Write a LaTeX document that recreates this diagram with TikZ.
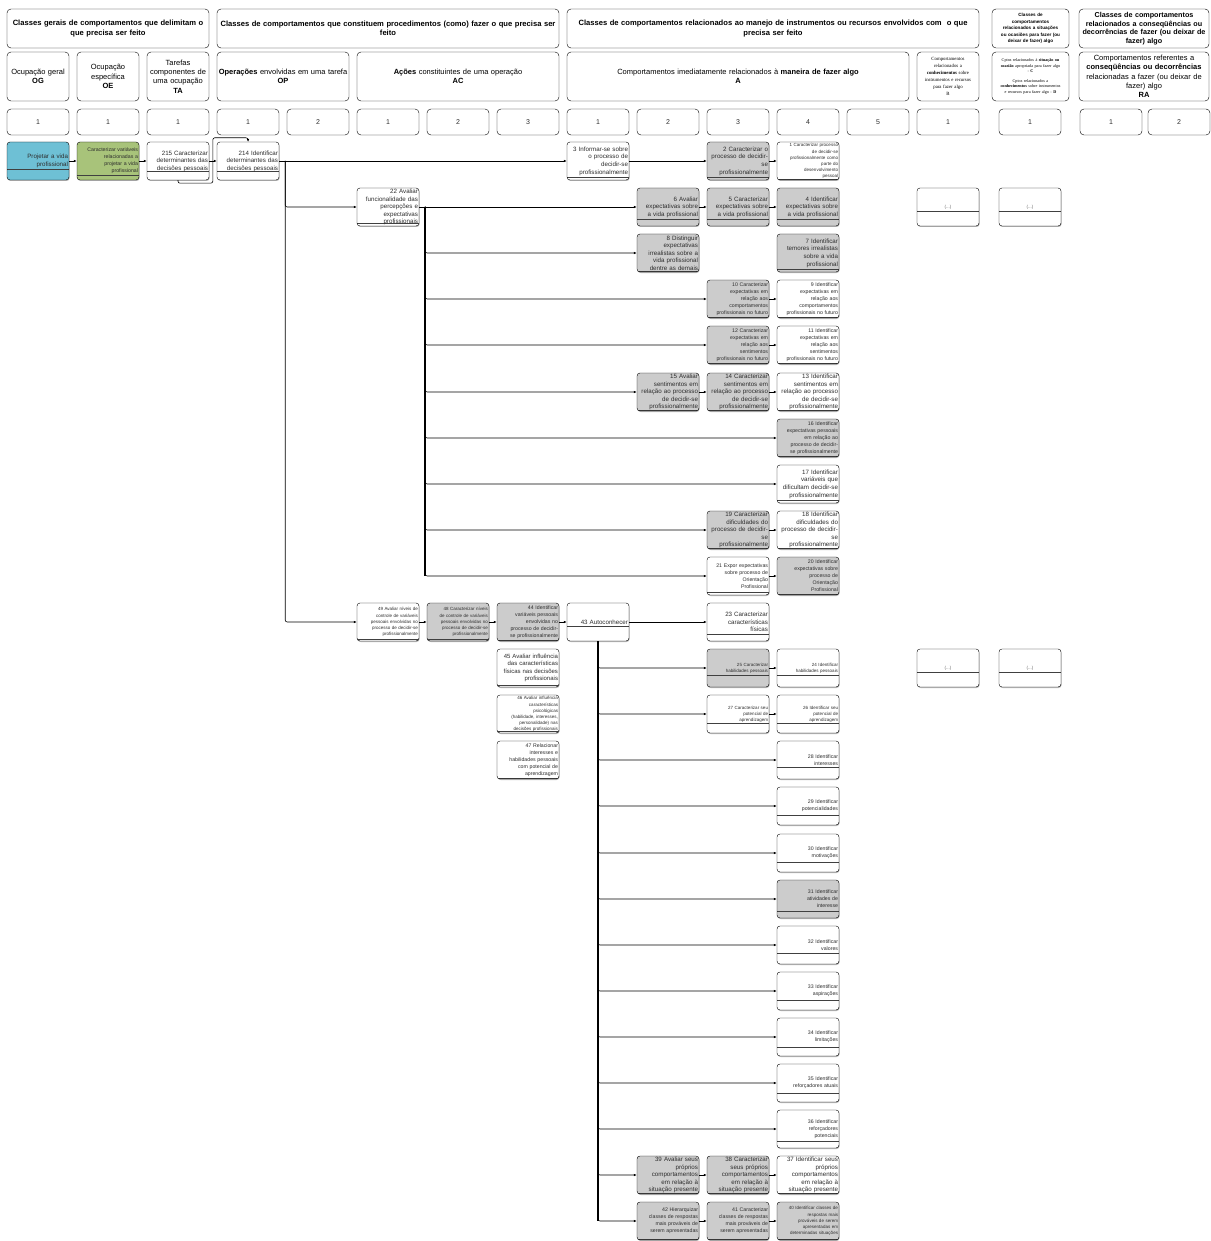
\documentclass[tikz,border=0pt]{standalone}
\usepackage{fontspec}
\setmainfont{Liberation Sans}
\newfontfamily\timesfont{Liberation Serif}
\usetikzlibrary{calc, positioning, arrows.meta, shadows}
\definecolor{boxgray}{RGB}{204,204,204}
\definecolor{boxblue}{RGB}{110,192,213}
\definecolor{boxgreen}{RGB}{168,195,122}
\definecolor{boxtext}{RGB}{45,45,45}
\newcommand{\fsA}{\fontsize{6.2}{7.6}\selectfont}
\newcommand{\fsB}{\fontsize{5.2}{7}\selectfont}
\newcommand{\fsC}{\fontsize{4.5}{6.1}\selectfont}
\tikzset{
	hdr/.style={draw, rounded corners=4pt, align=center, inner sep=1pt, minimum height=39pt, font=\bfseries\fontsize{7.6}{9.3}\selectfont}
}
\tikzset{
	cat/.style={draw, rounded corners=4pt, align=center, inner sep=1pt, minimum height=49pt, font=\fontsize{7.5}{9.3}\selectfont},
	num/.style={draw, rounded corners=4pt, minimum width=62pt, minimum height=26pt, inner sep=0pt, font=\fontsize{7}{8}\selectfont, text=boxtext}
}
\tikzset{
	lane/.style={path picture={\draw[black!75, line width=0.6pt] ([yshift=#1]path picture bounding box.south west) -- ([yshift=#1]path picture bounding box.south east);}},
	lane/.default=9pt,
	cbox/.style={draw, fill=white, rounded corners=3pt, minimum width=62pt, minimum height=38pt, text width=60pt, inner xsep=1pt, inner ysep=0pt, align=right, font=\fsA, text=boxtext, lane, drop shadow={shadow xshift=0.6pt, shadow yshift=-1pt, opacity=0.55}},
	gbox/.style={cbox, fill=boxgray},
	dots/.style={cbox, lane=15pt, align=center, font=\fsC, text=black!60},
	conn/.style={line width=0.6pt, -{Latex[length=3pt,width=2.6pt]}, rounded corners=2pt},
	trunk/.style={line width=1.6pt}
}

\begin{document}
\begin{tikzpicture}[x=1pt, y=-1pt]
      \useasboundingbox (0,0) rectangle (1210,1241);
      % cabecalho
      \node[hdr, text width=200pt] (h1) at (108,28.5) {Classes gerais de comportamentos que delimitam o\\que precisa ser feito};
      \node[hdr, text width=340pt] (h2) at (388,28.5) {Classes de comportamentos que constituem procedimentos (como) fazer o que precisa ser\\feito};
      \node[hdr, text width=410pt] (h3) at (773,28.5) {Classes de comportamentos relacionados ao manejo de instrumentos ou recursos envolvidos com\ \ o que\\precisa ser feito};
      \node[hdr, text width=75pt, font=\bfseries\fontsize{4.6}{6.4}\selectfont] (h4) at (1030.5,28.5) {Classes de\\comportamentos\\relacionados a situações\\ou ocasiões para fazer (ou\\deixar de fazer) algo};
      \node[hdr, text width=128pt, font=\bfseries\fontsize{7.2}{8.6}\selectfont] (h5) at (1144,28.5) {Classes de comportamentos\\relacionados a conseqüências ou\\decorrências de fazer (ou deixar de\\fazer) algo};

      \node[cat, text width=60pt] (og) at (38,76.5) {Ocupação geral\\\textbf{OG}};
      \node[cat, text width=60pt] (oe) at (108,76.5) {Ocupação\\específica\\\textbf{OE}};
      \node[cat, text width=60pt] (ta) at (178,76.5) {Tarefas\\componentes de\\uma ocupação\\\textbf{TA}};
      \node[cat, text width=130pt] (op) at (283,76.5) {\textbf{Operações} envolvidas em uma tarefa\\\textbf{OP}};
      \node[cat, text width=200pt] (ac) at (458,76.5) {\textbf{Ações} constituintes de uma operação\\\textbf{AC}};
      \node[cat, text width=340pt] (ca) at (738,76.5) {Comportamentos imediatamente relacionados à \textbf{maneira de fazer algo}\\\textbf{A}};
      \node[cat, text width=60pt, font=\timesfont\fontsize{4.8}{6.9}\selectfont] (cb) at (948,76.5) {Comportamentos\\relacionados a\\\textbf{conhecimentos} sobre\\instrumentos e recursos\\para fazer algo\\B};
      \node[cat, text width=75pt, font=\timesfont\fontsize{4.2}{5.6}\selectfont] (ccd) at (1030.5,76.5) {Cptos relacionados à \textbf{situação ou}\\\textbf{ocasião} apropriada para fazer algo\\- \textbf{C}\\[4pt]Cptos relacionados a\\\textbf{conhecimentos} sobre instrumentos\\e recursos para fazer algo - \textbf{D}};
      \node[cat, text width=128pt] (cra) at (1144,76.5) {Comportamentos referentes a\\\textbf{conseqüências ou decorrências}\\relacionadas a fazer (ou deixar de\\fazer) algo\\\textbf{RA}};

      \foreach \x/\t [count=\i] in {38/1,108/1,178/1,248/1,318/2,388/1,458/2,528/3,598/1,668/2,738/3,808/4,878/5,948/1,1030/1,1111/1,1179/2}
        \node[num] (k\i) at (\x,122) {\t};

      % cadeia principal
      \node[cbox, fill=boxblue, lane=11pt] (og1) at (38,161) {Projetar a vida\\profissional};
      \node[cbox, fill=boxgreen, lane=5pt, font=\fsB] (oe1) at (108,161) {Caracterizar variáveis\\relacionadas a\\projetar a vida\\profissional};
      \node[cbox] (n215) at (178,161) {215 Caracterizar\\determinantes das\\decisões pessoais};
      \node[cbox] (n214) at (248,161) {214 Identificar\\determinantes das\\decisões pessoais};
      \node[cbox, lane=3pt] (n3) at (598,161) {3 Informar-se sobre\\o processo de\\decidir-se\\profissionalmente};
      \node[gbox, lane=3pt] (n2) at (738,161) {2 Caracterizar o\\processo de decidir-\\se\\profissionalmente};
      \node[cbox, lane=1pt, font=\fsC] (n1) at (808,161) {1 Caracterizar processo\\de decidir-se\\profissionalmente como\\parte do\\desenvolvimento\\pessoal};

      \node[cbox, lane=3pt] (n22) at (388,207) {22 Avaliar\\funcionalidade das\\percepções e\\expectativas\\profissionais};
      \node[gbox, lane=7pt] (n6) at (668,207) {6 Avaliar\\expectativas sobre\\a vida profissional};
      \node[gbox, lane=7pt] (n5) at (738,207) {5 Caracterizar\\expectativas sobre\\a vida profissional};
      \node[gbox, lane=7pt] (n4) at (808,207) {4 Identificar\\expectativas sobre\\a vida profissional};
      \node[dots] (d1) at (948,207) {(...)};
      \node[dots] (d2) at (1030,207) {(...)};

      \node[gbox, lane=1pt] (n8) at (668,253) {8 Distinguir\\expectativas\\irrealistas sobre a\\vida profissional\\dentre as demais};
      \node[gbox, lane=3pt] (n7) at (808,253) {7 Identificar\\temores irrealistas\\sobre a vida\\profissional};

      \node[gbox, lane=1pt, font=\fsB] (n10) at (738,299) {10 Caracterizar\\expectativas em\\relação aos\\comportamentos\\profissionais no futuro};
      \node[cbox, lane=1pt, font=\fsB] (n9) at (808,299) {9 Identificar\\expectativas em\\relação aos\\comportamentos\\profissionais no futuro};

      \node[gbox, lane=1pt, font=\fsB] (n12) at (738,345) {12 Caracterizar\\expectativas em\\relação aos\\sentimentos\\profissionais no futuro};
      \node[cbox, lane=1pt, font=\fsB] (n11) at (808,345) {11 Identificar\\expectativas em\\relação aos\\sentimentos\\profissionais no futuro};

      \node[gbox, lane=1pt] (n15) at (668,392) {15 Avaliar\\sentimentos em\\relação ao processo\\de decidir-se\\profissionalmente};
      \node[gbox, lane=1pt] (n14) at (738,392) {14 Caracterizar\\sentimentos em\\relação ao processo\\de decidir-se\\profissionalmente};
      \node[cbox, lane=1pt] (n13) at (808,392) {13 Identificar\\sentimentos em\\relação ao processo\\de decidir-se\\profissionalmente};

      \node[gbox, lane=1pt, font=\fsB] (n16) at (808,438) {16 Identificar\\expectativas pessoais\\em relação ao\\processo de decidir-\\se profissionalmente};
      \node[cbox, lane=3pt] (n17) at (808,484) {17 Identificar\\variáveis que\\dificultam decidir-se\\profissionalmente};

      \node[gbox, lane=1pt] (n19) at (738,530) {19 Caracterizar\\dificuldades do\\processo de decidir-\\se\\profissionalmente};
      \node[cbox, lane=1pt] (n18) at (808,530) {18 Identificar\\dificuldades do\\processo de decidir-\\se\\profissionalmente};

      \node[cbox, lane=3pt, font=\fsB] (n21) at (738,576) {21 Expor expectativas\\sobre processo de\\Orientação\\Profissional};
      \node[gbox, lane=1pt, font=\fsB] (n20) at (808,576) {20 Identificar\\expectativas sobre\\processo de\\Orientação\\Profissional};

      % autoconhecimento
      \node[cbox, lane=2pt, font=\fsC] (n49) at (388,622) {49 Avaliar níveis de\\controle de variáveis\\pessoais envolvidas no\\processo de decidir-se\\profissionalmente};
      \node[gbox, lane=2pt, font=\fsC] (n48) at (458,622) {48 Caracterizar níveis\\de controle de variáveis\\pessoais envolvidas no\\processo de decidir-se\\profissionalmente};
      \node[gbox, lane=1pt, font=\fsB] (n44) at (528,622) {44 Identificar\\variáveis pessoais\\envolvidas no\\processo de decidir-\\se profissionalmente};
      \node[cbox, lane=15pt] (n43) at (598,622) {43 Autoconhecer};
      \node[cbox, lane=7pt] (n23) at (738,622) {23 Caracterizar\\características\\físicas};

      \node[cbox, lane=2pt, font=\fontsize{6}{7.5}\selectfont] (n45) at (528,668) {45 Avaliar influência\\das características\\físicas nas decisões\\profissionais};
      \node[gbox, lane=12pt, font=\fsC] (n25) at (738,668) {25 Caracterizar\\habilidades pessoais};
      \node[cbox, lane=12pt, font=\fsC] (n24) at (808,668) {24 Identificar\\habilidades pessoais};
      \node[dots] (d3) at (948,668) {(...)};
      \node[dots] (d4) at (1030,668) {(...)};

      \node[cbox, lane=2pt, font=\fsC] (n46) at (528,714) {46 Avaliar influência\\características\\psicológicas\\(habilidade, interesses,\\personalidade) nas\\decisões profissionais};
      \node[cbox, lane=10pt, font=\fsC] (n27) at (738,714) {27 Caracterizar seu\\potencial de\\aprendizagem};
      \node[cbox, lane=10pt, font=\fsC] (n26) at (808,714) {26 Identificar seu\\potencial de\\aprendizagem};

      \node[cbox, lane=1pt, font=\fsB] (n47) at (528,760) {47 Relacionar\\interesses e\\habilidades pessoais\\com potencial de\\aprendizagem};
      \node[cbox, lane=12pt, font=\fsB] (n28) at (808,760) {28 Identificar\\interesses};
      \node[cbox, lane=10pt, font=\fsB] (n29) at (808,806) {29 Identificar\\potencialidades};
      \node[cbox, lane=10pt, font=\fsB] (n30) at (808,853) {30 Identificar\\motivações};
      \node[gbox, lane=7pt, font=\fsB] (n31) at (808,899) {31 Identificar\\atividades de\\interesse};
      \node[cbox, lane=11pt, font=\fsB] (n32) at (808,945) {32 Identificar\\valores};
      \node[cbox, lane=10pt, font=\fsB] (n33) at (808,991) {33 Identificar\\aspirações};
      \node[cbox, lane=9pt, font=\fsB] (n34) at (808,1037) {34 Identificar\\limitações};
      \node[cbox, lane=9pt, font=\fsB] (n35) at (808,1083) {35 Identificar\\reforçadores atuais};
      \node[cbox, lane=7pt, font=\fsB] (n36) at (808,1129) {36 Identificar\\reforçadores\\potenciais};

      \node[gbox, lane=1pt] (n39) at (668,1175) {39 Avaliar seus\\próprios\\comportamentos\\em relação à\\situação presente};
      \node[gbox, lane=1pt] (n38) at (738,1175) {38 Caracterizar\\seus próprios\\comportamentos\\em relação à\\situação presente};
      \node[cbox, lane=1pt] (n37) at (808,1175) {37 Identificar seus\\próprios\\comportamentos\\em relação à\\situação presente};

      \node[gbox, lane=1pt, font=\fsB] (n42) at (668,1221) {42 Hierarquizar\\classes de respostas\\mais prováveis de\\serem apresentadas};
      \node[gbox, lane=1pt, font=\fsB] (n41) at (738,1221) {41 Caracterizar\\classes de respostas\\mais prováveis de\\serem apresentadas};
      \node[gbox, lane=1pt, font=\fsC] (n40) at (808,1221) {40 Identificar classes de\\respostas mais\\prováveis de serem\\apresentadas em\\determinadas situações};

      % ligacoes
      \draw[conn] (og1) -- (oe1);
      \draw[conn] (oe1) -- (n215);
      \draw[conn] (n215) -- (n214);
      \draw[conn] (n215.south) -- ++(0,3) -| ([xshift=-4pt,yshift=4pt]n214.north west) -| (n214.north);
      \draw[conn] (n214) -- (n3);
      \coordinate (t1) at ([xshift=6pt]n214.east);
      \draw[conn] (t1) |- (n22);
      \draw[conn] (t1) |- (n49);
      \draw[conn] (n3) -- (n2);
      \draw[conn] (n2) -- (n1);

      \coordinate (t2) at ([xshift=6pt]n22.east);
      \draw[trunk] (t2) -- (t2 |- n21);
      \draw[conn] (n22) -- (n6);
      \foreach \m in {n8,n10,n12,n15,n16,n17,n19,n21}
        \draw[conn] (t2) |- (\m);
      \draw[conn] (n6) -- (n5);
      \draw[conn] (n5) -- (n4);
      \draw[conn] (n10) -- (n9);
      \draw[conn] (n12) -- (n11);
      \draw[conn] (n15) -- (n14);
      \draw[conn] (n14) -- (n13);
      \draw[conn] (n19) -- (n18);
      \draw[conn] (n21) -- (n20);

      \draw[conn] (n49) -- (n48);
      \draw[conn] (n48) -- (n44);
      \draw[conn] (n44) -- (n43);
      \draw[conn] (n43) -- (n23);
      \draw[trunk] (n43.south) -- (n43.south |- n42);
      \foreach \m in {n25,n27,n28,n29,n30,n31,n32,n33,n34,n35,n36,n39,n42}
        \draw[conn] (n43.south) |- (\m);
      \draw[conn] (n25) -- (n24);
      \draw[conn] (n27) -- (n26);
      \draw[conn] (n39) -- (n38);
      \draw[conn] (n38) -- (n37);
      \draw[conn] (n42) -- (n41);
      \draw[conn] (n41) -- (n40);
    \end{tikzpicture}
\end{document}
